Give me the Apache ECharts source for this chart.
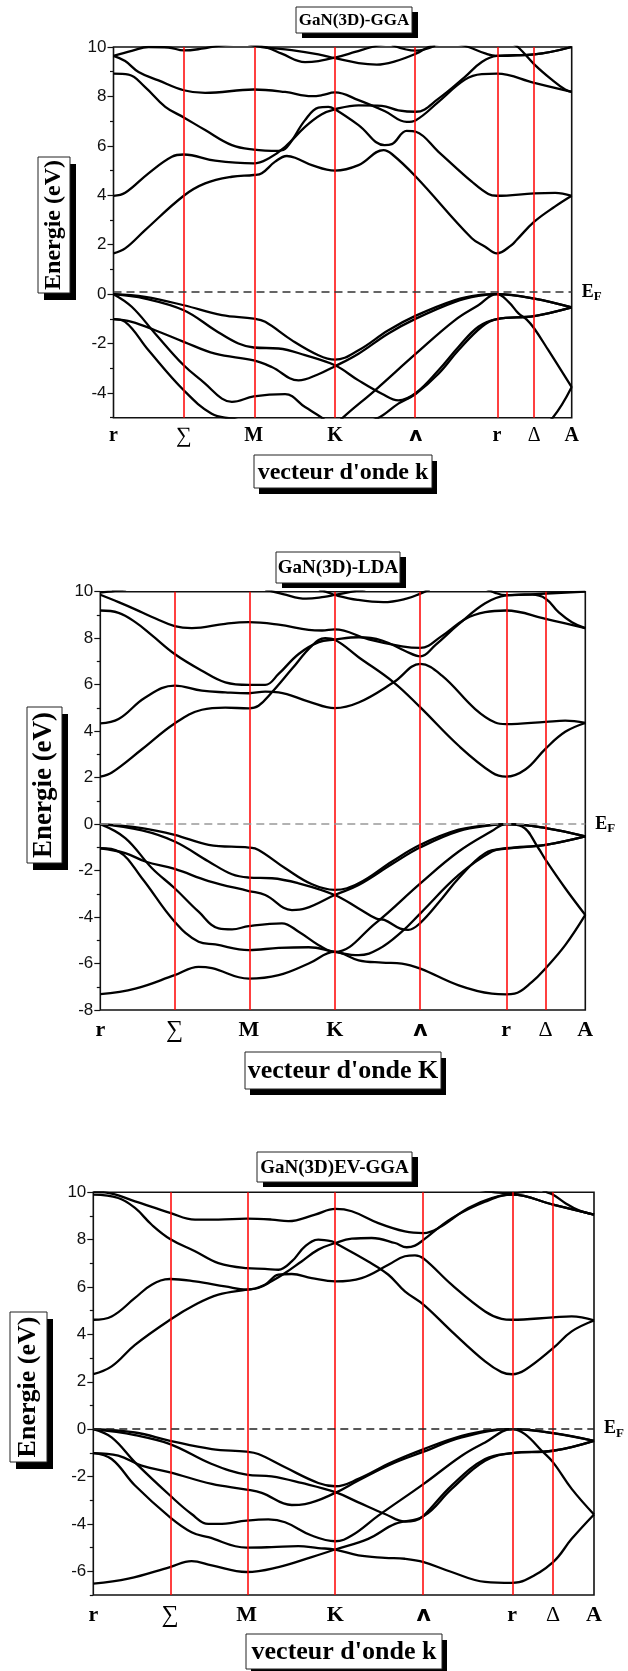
<!DOCTYPE html>
<html>
<head>
<meta charset="utf-8">
<script src="https://cdn.jsdelivr.net/npm/echarts@6/dist/echarts.min.js"></script>
<style>
  html, body { margin: 0; padding: 0; background: #fff; }
  #chart { width: 628px; height: 1671px; }
</style>
</head>
<body>
<div id="chart"></div>
<script>
// High-symmetry points of the wurtzite Brillouin-zone path, k in units of 2π/a
const kTicks  = [0, 0.289, 0.577, 0.911, 1.244, 1.577, 1.731, 1.885];
const kLabels = ['r', '∑', 'M', 'K', 'ʌ', 'r', 'Δ', 'A'];

// Energy tick values (eV) for each panel
const ggaMajor = [-4, -2, 0, 2, 4, 6, 8, 10];
const ggaMinor = [-5, -3, -1, 1, 3, 5, 7, 9];
const ldaMajor = [-8, -6, -4, -2, 0, 2, 4, 6, 8, 10];
const ldaMinor = [-7, -5, -3, -1, 1, 3, 5, 7, 9];
const evMajor  = [-6, -4, -2, 0, 2, 4, 6, 8, 10];
const evMinor  = [-7, -5, -3, -1, 1, 3, 5, 7, 9];

// Fermi level marker (eV) per panel
const fermiLevels = [0.09, 0, 0.03];

// ---- GaN(3D)-GGA : bands as [k, E] knots ----
const ggaConduction = [
  [[0,1.65],[0.048,1.85],[0.130,2.59],[0.289,3.98],[0.377,4.48],[0.487,4.75],[0.577,4.82],[0.610,4.89],[0.665,5.36],[0.713,5.59],[0.747,5.52],[0.816,5.22],[0.911,5.00],[1.008,5.22],[1.111,5.83],[1.145,5.67],[1.244,4.75],[1.474,2.26],[1.529,1.92],[1.577,1.65],[1.638,1.99],[1.659,2.20],[1.731,2.93],[1.817,3.55],[1.885,3.98]],
  [[0,3.98],[0.048,4.10],[0.144,4.89],[0.240,5.56],[0.289,5.65],[0.418,5.40],[0.577,5.29],[0.638,5.49],[0.706,5.96],[0.788,6.77],[0.857,7.28],[0.911,7.48],[1.008,7.64],[1.104,7.62],[1.172,7.44],[1.244,7.38],[1.337,7.91],[1.446,8.79],[1.515,9.39],[1.577,9.64],[1.731,9.70],[1.885,10.0]],
  [[0,8.92],[0.062,8.88],[0.130,8.38],[0.213,7.58],[0.289,7.15],[0.377,6.64],[0.487,6.03],[0.577,5.85],[0.679,5.80],[0.713,5.94],[0.788,7.04],[0.843,7.55],[0.884,7.58],[0.911,7.48],[1.008,6.84],[1.115,6.03],[1.145,6.07],[1.206,6.61],[1.244,6.57],[1.337,5.76],[1.474,4.55],[1.542,4.05],[1.577,3.98],[1.731,4.08],[1.817,4.10],[1.885,3.98]],
  [[0,9.64],[0.048,9.43],[0.103,8.99],[0.185,8.65],[0.289,8.25],[0.377,8.14],[0.577,8.28],[0.706,8.18],[0.816,8.01],[0.857,8.05],[0.911,8.16],[1.008,7.85],[1.117,7.40],[1.206,6.97],[1.244,7.04],[1.337,7.78],[1.446,8.68],[1.515,8.90],[1.577,8.92],[1.731,8.55],[1.885,8.18]],
  [[0,9.64],[0.075,9.84],[0.144,10.0],[0.226,9.98],[0.289,9.86],[0.363,9.93],[0.432,10.05],[0.514,10.15]],
  [[0.555,10.1],[0.624,10.0],[0.692,9.73],[0.788,9.39],[0.843,9.43],[0.911,9.57],[0.994,9.80],[1.063,10.0],[1.131,10.15]],
  [[0.555,10.12],[0.610,10.0],[0.733,9.87],[0.843,9.70],[0.911,9.55],[1.008,9.35],[1.083,9.29],[1.158,9.42],[1.244,9.73],[1.296,10.0],[1.350,10.15]],
  [[1.145,10.08],[1.244,9.85],[1.323,10.05]],
  [[1.392,10.2],[1.460,10.0],[1.529,9.74],[1.577,9.64],[1.731,9.70],[1.885,10.0]],
  [[1.577,10.45],[1.631,10.2],[1.666,9.98],[1.731,9.30],[1.803,8.68],[1.858,8.28],[1.885,8.18]]
];
const ggaValence = [
  [[0,0],[0.130,-0.11],[0.289,-0.45],[0.446,-0.85],[0.577,-0.99],[0.624,-1.12],[0.733,-1.86],[0.843,-2.47],[0.911,-2.65],[1.008,-2.27],[1.131,-1.46],[1.244,-0.87],[1.405,-0.24],[1.501,-0.04],[1.577,0],[1.731,-0.18],[1.885,-0.54]],
  [[0,0],[0.130,-0.18],[0.289,-0.65],[0.418,-1.46],[0.514,-2.0],[0.577,-2.16],[0.679,-2.20],[0.788,-2.47],[0.911,-2.88],[1.008,-3.49],[1.104,-4.03],[1.172,-4.30],[1.244,-4.00],[1.337,-3.08],[1.419,-2.14],[1.501,-1.32],[1.577,-1.01],[1.731,-0.89],[1.885,-0.54]],
  [[0,-1.01],[0.075,-1.12],[0.171,-1.46],[0.289,-1.93],[0.418,-2.41],[0.577,-2.68],[0.651,-2.95],[0.761,-3.49],[0.843,-3.24],[0.911,-2.92],[1.008,-2.41],[1.131,-1.59],[1.244,-0.99],[1.405,-0.31],[1.501,-0.07],[1.577,0],[1.625,-0.31],[1.666,-0.78],[1.700,-1.03],[1.731,-1.39],[1.789,-2.27],[1.885,-3.76]],
  [[0,0],[0.075,-0.51],[0.171,-1.59],[0.289,-2.88],[0.377,-3.62],[0.446,-4.23],[0.487,-4.36],[0.577,-4.14],[0.706,-4.05],[0.788,-4.57],[0.857,-5.0],[0.911,-5.4],[0.939,-5.04],[1.076,-3.89],[1.244,-2.41],[1.405,-1.05],[1.501,-0.45],[1.577,0],[1.731,-0.18],[1.885,-0.54]],
  [[0,-1.01],[0.048,-1.12],[0.144,-2.27],[0.289,-3.89],[0.404,-4.84],[0.487,-5.04],[0.577,-5.2],[0.788,-5.1],[0.911,-5.45],[1.082,-5.04],[1.172,-4.43],[1.244,-4.03],[1.337,-3.22],[1.419,-2.27],[1.515,-1.32],[1.577,-1.01],[1.731,-0.89],[1.885,-0.54]],
  [[0,-6.7],[0.289,-5.95],[0.400,-5.7],[0.577,-6.2],[0.911,-5.45],[1.244,-5.9],[1.474,-6.5],[1.577,-6.7],[1.650,-6.4],[1.731,-5.6],[1.807,-5.0],[1.885,-3.76]]
];

// ---- GaN(3D)-LDA ----
const ldaConduction = [
  [[0,2.04],[0.045,2.22],[0.162,3.22],[0.289,4.33],[0.395,4.92],[0.486,5.01],[0.577,4.98],[0.615,5.09],[0.667,5.67],[0.745,6.68],[0.823,7.68],[0.874,8.0],[0.911,7.93],[1.004,7.18],[1.140,6.10],[1.244,5.02],[1.393,3.37],[1.522,2.22],[1.577,2.04],[1.652,2.35],[1.731,3.25],[1.807,3.97],[1.885,4.35]],
  [[0,4.33],[0.071,4.52],[0.175,5.45],[0.289,5.96],[0.395,5.74],[0.486,5.67],[0.577,5.63],[0.641,5.70],[0.693,5.67],[0.810,5.27],[0.911,4.99],[1.004,5.23],[1.140,6.10],[1.244,6.89],[1.328,6.39],[1.457,4.95],[1.535,4.37],[1.577,4.30],[1.731,4.40],[1.807,4.45],[1.885,4.35]],
  [[0,9.19],[0.071,9.09],[0.136,8.69],[0.201,8.12],[0.289,7.32],[0.395,6.60],[0.486,6.10],[0.577,5.99],[0.641,5.99],[0.693,6.46],[0.771,7.32],[0.849,7.83],[0.911,7.94],[1.004,8.04],[1.095,7.90],[1.185,7.45],[1.244,7.22],[1.302,7.70],[1.393,8.60],[1.496,9.50],[1.577,9.84],[1.691,9.90],[1.885,10.0]],
  [[0,9.87],[0.071,9.55],[0.136,9.24],[0.201,8.91],[0.289,8.52],[0.356,8.43],[0.486,8.62],[0.577,8.69],[0.693,8.58],[0.810,8.36],[0.862,8.33],[0.911,8.38],[1.043,7.95],[1.172,7.65],[1.244,7.58],[1.328,8.10],[1.419,8.83],[1.496,9.12],[1.577,9.19],[1.731,8.83],[1.885,8.43]],
  [[0,9.96],[0.045,10.02],[0.100,10.1]],
  [[0.641,10.1],[0.710,9.90],[0.800,9.70],[0.870,9.78],[0.911,9.86],[0.978,10.0],[1.030,10.1]],
  [[0.850,10.1],[0.890,9.95],[0.911,9.86],[1.000,9.65],[1.100,9.55],[1.190,9.70],[1.244,9.92],[1.280,10.1]],
  [[1.496,10.15],[1.535,9.95],[1.577,9.85],[1.678,9.87],[1.731,9.70],[1.781,9.12],[1.833,8.69],[1.885,8.43]]
];
const ldaValence = [
  [[0,0],[0.162,-0.17],[0.289,-0.46],[0.421,-0.89],[0.577,-1.01],[0.615,-1.11],[0.719,-1.90],[0.823,-2.59],[0.911,-2.83],[1.004,-2.55],[1.134,-1.61],[1.244,-0.89],[1.393,-0.24],[1.522,-0.03],[1.577,0],[1.731,-0.17],[1.885,-0.53]],
  [[0,0],[0.162,-0.27],[0.289,-0.75],[0.421,-1.61],[0.512,-2.16],[0.577,-2.30],[0.667,-2.33],[0.771,-2.55],[0.911,-3.05],[1.004,-3.63],[1.073,-4.07],[1.104,-4.12],[1.166,-4.50],[1.197,-4.55],[1.244,-4.25],[1.328,-3.20],[1.393,-2.33],[1.496,-1.25],[1.577,-1.04],[1.731,-0.89],[1.885,-0.53]],
  [[0,-1.04],[0.097,-1.25],[0.175,-1.61],[0.289,-1.93],[0.421,-2.45],[0.577,-2.88],[0.641,-3.05],[0.745,-3.70],[0.797,-3.63],[0.911,-3.05],[1.004,-2.62],[1.134,-1.72],[1.244,-1.00],[1.393,-0.30],[1.522,-0.04],[1.577,0],[1.731,-0.17],[1.885,-0.53]],
  [[0,0],[0.097,-0.60],[0.201,-1.90],[0.289,-2.76],[0.382,-3.77],[0.460,-4.49],[0.512,-4.53],[0.577,-4.39],[0.706,-4.27],[0.771,-4.63],[0.849,-5.21],[0.911,-5.50],[1.069,-4.27],[1.244,-2.55],[1.393,-1.18],[1.522,-0.30],[1.577,0],[1.639,-0.10],[1.703,-1.04],[1.731,-1.54],[1.807,-2.76],[1.885,-3.91]],
  [[0,-1.04],[0.071,-1.18],[0.162,-2.33],[0.289,-4.20],[0.382,-5.06],[0.447,-5.18],[0.577,-5.42],[0.693,-5.33],[0.810,-5.30],[0.911,-5.50],[1.004,-5.64],[1.082,-5.38],[1.172,-4.63],[1.244,-3.84],[1.393,-2.19],[1.522,-1.18],[1.577,-1.06],[1.731,-0.89],[1.885,-0.53]],
  [[0,-7.32],[0.136,-7.08],[0.289,-6.50],[0.382,-6.14],[0.434,-6.20],[0.577,-6.65],[0.693,-6.50],[0.810,-6.00],[0.911,-5.50],[1.004,-5.86],[1.095,-5.96],[1.172,-6.00],[1.244,-6.22],[1.393,-6.94],[1.522,-7.30],[1.577,-7.33],[1.610,-7.30],[1.678,-6.79],[1.731,-6.20],[1.807,-5.21],[1.885,-3.91]]
];

// ---- GaN(3D)EV-GGA ----
const evConduction = [
  [[0,2.32],[0.069,2.65],[0.157,3.56],[0.289,4.62],[0.383,5.25],[0.471,5.68],[0.577,5.89],[0.621,5.96],[0.671,6.24],[0.722,6.59],[0.784,7.08],[0.847,7.58],[0.911,7.86],[0.973,8.04],[1.048,8.07],[1.136,7.86],[1.180,7.68],[1.211,7.75],[1.244,8.0],[1.349,8.9],[1.475,9.6],[1.577,9.9],[1.731,9.48],[1.885,9.06]],
  [[0,4.62],[0.069,4.76],[0.157,5.54],[0.220,6.10],[0.289,6.34],[0.383,6.24],[0.496,6.03],[0.577,5.89],[0.646,6.10],[0.697,6.52],[0.747,6.55],[0.822,6.38],[0.911,6.24],[1.010,6.38],[1.111,6.94],[1.173,7.30],[1.211,7.34],[1.244,7.20],[1.349,6.10],[1.475,4.97],[1.537,4.66],[1.577,4.62],[1.731,4.72],[1.801,4.76],[1.885,4.59]],
  [[0,9.90],[0.094,9.76],[0.157,9.34],[0.220,8.63],[0.289,8.03],[0.383,7.51],[0.471,7.01],[0.577,6.80],[0.646,6.77],[0.697,6.73],[0.747,7.08],[0.797,7.72],[0.847,8.0],[0.899,7.93],[0.911,7.86],[1.035,7.08],[1.111,6.52],[1.173,5.82],[1.244,5.25],[1.349,4.13],[1.475,2.86],[1.537,2.41],[1.577,2.32],[1.625,2.50],[1.731,3.42],[1.801,4.13],[1.885,4.59]],
  [[0,10.02],[0.044,10.0],[0.157,9.62],[0.289,9.13],[0.383,8.85],[0.471,8.85],[0.577,8.89],[0.671,8.85],[0.734,8.78],[0.835,9.06],[0.911,9.30],[0.973,9.20],[1.073,8.70],[1.173,8.35],[1.244,8.28],[1.299,8.49],[1.412,9.34],[1.500,9.76],[1.577,9.90],[1.731,9.48],[1.885,9.06]],
  [[1.688,10.1],[1.707,10.0],[1.731,9.90],[1.776,9.55],[1.826,9.25],[1.885,9.06]],
  [[1.450,10.12],[1.512,10.0],[1.577,9.97],[1.650,10.05],[1.700,10.12]]
];
const evValence = [
  [[0,0],[0.157,-0.14],[0.289,-0.49],[0.446,-0.84],[0.577,-0.95],[0.621,-1.05],[0.722,-1.61],[0.847,-2.27],[0.911,-2.41],[0.998,-2.10],[1.123,-1.40],[1.244,-0.84],[1.387,-0.28],[1.500,-0.04],[1.577,0],[1.650,-0.04],[1.731,-0.17],[1.885,-0.49]],
  [[0,0],[0.157,-0.25],[0.289,-0.63],[0.446,-1.47],[0.577,-1.92],[0.671,-1.99],[0.784,-2.27],[0.911,-2.66],[0.998,-3.09],[1.098,-3.58],[1.173,-3.90],[1.211,-3.86],[1.244,-3.65],[1.349,-2.38],[1.475,-1.26],[1.577,-1.01],[1.731,-0.91],[1.885,-0.49]],
  [[0,-1.01],[0.094,-1.12],[0.182,-1.54],[0.289,-1.82],[0.446,-2.31],[0.577,-2.55],[0.634,-2.69],[0.747,-3.20],[0.797,-3.16],[0.911,-2.69],[0.998,-2.17],[1.123,-1.47],[1.244,-0.95],[1.387,-0.35],[1.577,0],[1.625,-0.21],[1.688,-0.91],[1.731,-1.40],[1.801,-2.52],[1.885,-3.60]],
  [[0,0],[0.069,-0.35],[0.157,-1.40],[0.289,-2.80],[0.370,-3.58],[0.433,-4.00],[0.471,-4.00],[0.577,-3.86],[0.659,-3.81],[0.722,-3.93],[0.822,-4.49],[0.911,-4.73],[0.973,-4.49],[1.073,-3.65],[1.244,-2.31],[1.387,-1.12],[1.475,-0.56],[1.577,0],[1.731,-0.17],[1.885,-0.49]],
  [[0,-1.01],[0.069,-1.26],[0.157,-2.38],[0.289,-3.72],[0.370,-4.35],[0.433,-4.56],[0.577,-5.00],[0.671,-4.98],[0.772,-4.94],[0.847,-5.02],[0.911,-5.08],[0.998,-5.33],[1.098,-5.43],[1.173,-5.47],[1.244,-5.61],[1.349,-6.03],[1.475,-6.45],[1.577,-6.49],[1.625,-6.38],[1.731,-5.61],[1.801,-4.63],[1.885,-3.60]],
  [[0,-6.52],[0.132,-6.31],[0.289,-5.82],[0.370,-5.57],[0.446,-5.75],[0.577,-6.03],[0.697,-5.82],[0.822,-5.40],[0.911,-5.08],[1.035,-4.63],[1.136,-4.00],[1.244,-3.67],[1.349,-2.52],[1.475,-1.33],[1.577,-1.01],[1.731,-0.91],[1.885,-0.49]]
];

// ---- layout of the three stacked panels ----
const SERIF = '"Liberation Serif", "Times New Roman", "DejaVu Serif", serif';
const SANS = '"Liberation Sans", Arial, sans-serif';

const panels = [
  { title: 'GaN(3D)-GGA', xName: "vecteur d'onde k", bands: ggaConduction.concat(ggaValence),
    yMin: -5, major: ggaMajor, minor: ggaMinor, fermiColor: '#333',
    grid: { left: 113.5, top: 47, width: 458.2, height: 370.7 }, kSize: 20, kMargin: 8,
    titleBox: [296, 7, 116, 26, 17], yBox: [38, 157, 32, 136, 24], xBox: [254, 455, 178, 33, 24] },
  { title: 'GaN(3D)-LDA', xName: "vecteur d'onde K", bands: ldaConduction.concat(ldaValence),
    yMin: -8, major: ldaMajor, minor: ldaMinor, fermiColor: '#999',
    grid: { left: 100.3, top: 591.7, width: 485, height: 418.3 }, kSize: 22, kMargin: 9,
    titleBox: [276, 552, 124, 31, 19], yBox: [27, 707, 35, 156, 27], xBox: [245, 1052, 196, 37, 26] },
  { title: 'GaN(3D)EV-GGA', xName: "vecteur d'onde k", bands: evConduction.concat(evValence),
    yMin: -7, major: evMajor, minor: evMinor, fermiColor: '#222',
    grid: { left: 93.3, top: 1192.3, width: 500.7, height: 402.7 }, kSize: 22, kMargin: 9,
    titleBox: [257, 1152, 155, 30, 19], yBox: [10, 1312, 37, 150, 26], xBox: [246, 1634, 196, 35, 26] }
];

// white box with a hard black drop shadow, holding bold serif text
function shadowBox(b, text, vertical, dx, dy) {
  const [x, y, w, h, size] = b;
  return [
    { type: 'rect', z: 10, silent: true, shape: { x: x + dx, y: y + dy, width: w, height: h }, style: { fill: '#000' } },
    { type: 'rect', z: 11, silent: true, shape: { x: x, y: y, width: w, height: h }, style: { fill: '#fff', stroke: '#222', lineWidth: 1 } },
    { type: 'text', z: 12, silent: true, x: x + w / 2, y: y + h / 2 + (vertical ? 0 : 1), rotation: vertical ? Math.PI / 2 : 0,
      style: { text: text, fill: '#000', fontFamily: SERIF, fontWeight: 'bold', fontSize: size,
               align: 'center', verticalAlign: 'middle', textAlign: 'center', textVerticalAlign: 'middle' } }
  ];
}

function kLabel(v) {
  let idx = 0, best = Infinity;
  kTicks.forEach((k, i) => { const d = Math.abs(k - v); if (d < best) { best = d; idx = i; } });
  const s = kLabels[idx];
  if (s === '∑') return '{s|' + s + '}';
  if (s === 'Δ') return '{d|' + s + '}';
  if (s === 'ʌ') return '{l|' + s + '}';
  return '{b|' + s + '}';
}

const grids = [], xAxes = [], yAxes = [], series = [], graphics = [];

panels.forEach((p, i) => {
  grids.push(Object.assign({ show: true, borderColor: '#111', borderWidth: 1.6, backgroundColor: 'transparent' }, p.grid));

  xAxes.push({
    gridIndex: i, type: 'value', min: kTicks[0], max: kTicks[kTicks.length - 1],
    axisLine: { show: false }, axisTick: { show: false }, splitLine: { show: false },
    axisLabel: {
      customValues: kTicks, showMinLabel: true, showMaxLabel: true, margin: p.kMargin,
      formatter: kLabel,
      rich: {
        b: { fontFamily: SERIF, fontWeight: 'bold', fontSize: p.kSize, color: '#000' },
        s: { fontFamily: SERIF, fontWeight: 'normal', fontSize: p.kSize + 2, color: '#000' },
        d: { fontFamily: SERIF, fontWeight: 'normal', fontSize: p.kSize, color: '#000' },
        l: { fontFamily: '"DejaVu Sans", sans-serif', fontWeight: 'bold', fontSize: p.kSize, color: '#000' }
      }
    }
  });

  yAxes.push({
    gridIndex: i, type: 'value', position: 'left', min: p.yMin, max: 10,
    axisLine: { show: false }, splitLine: { show: false },
    axisTick: { show: true, customValues: p.major, length: 6, lineStyle: { color: '#111', width: 1.2 } },
    axisLabel: { customValues: p.major, showMinLabel: true, showMaxLabel: true, margin: 7,
                 fontFamily: SANS, fontSize: 17, color: '#111' }
  });
  yAxes.push({
    gridIndex: i, type: 'value', position: 'left', min: p.yMin, max: 10,
    axisLine: { show: false }, splitLine: { show: false }, axisLabel: { show: false },
    axisTick: { show: true, customValues: p.minor, length: 3.5, lineStyle: { color: '#111', width: 1.2 } }
  });

  // symmetry-point guides and the Fermi level
  const guides = kTicks.slice(1, -1).map(k => ({
    xAxis: k, lineStyle: { color: '#ff0000', width: 1.5, type: 'solid' }, label: { show: false }
  }));
  guides.push({
    yAxis: fermiLevels[i], lineStyle: { color: p.fermiColor, width: 1.6, type: [8, 5] },
    label: { show: true, position: 'end', distance: 10, formatter: '{e|E}{f|F}',
      rich: {
        e: { fontFamily: SERIF, fontWeight: 'bold', fontSize: 18, color: '#000' },
        f: { fontFamily: SERIF, fontWeight: 'bold', fontSize: 13, color: '#000', padding: [10, 0, 0, 0] }
      } }
  });
  series.push({
    type: 'line', xAxisIndex: i, yAxisIndex: 2 * i, data: [[kTicks[0], fermiLevels[i]]],
    symbol: 'none', lineStyle: { opacity: 0 }, silent: true, z: 1, animation: false,
    markLine: { symbol: ['none', 'none'], silent: true, animation: false, data: guides }
  });

  p.bands.forEach(b => {
    series.push({
      type: 'line', xAxisIndex: i, yAxisIndex: 2 * i, data: b, smooth: 0.4,
      symbol: 'none', silent: true, z: 3, clip: true, animation: false,
      lineStyle: { color: '#000', width: 2.3 }
    });
  });

  graphics.push(...shadowBox(p.titleBox, p.title, false, 6, 5));
  graphics.push(...shadowBox(p.yBox, 'Energie (eV)', true, 6, 7));
  graphics.push(...shadowBox(p.xBox, p.xName, false, 5, 6));
});

const chart = echarts.init(document.getElementById('chart'), null, { renderer: 'canvas' });
chart.setOption({
  animation: false,
  backgroundColor: '#fff',
  grid: grids,
  xAxis: xAxes,
  yAxis: yAxes,
  series: series,
  graphic: { elements: graphics }
});
</script>
</body>
</html>
